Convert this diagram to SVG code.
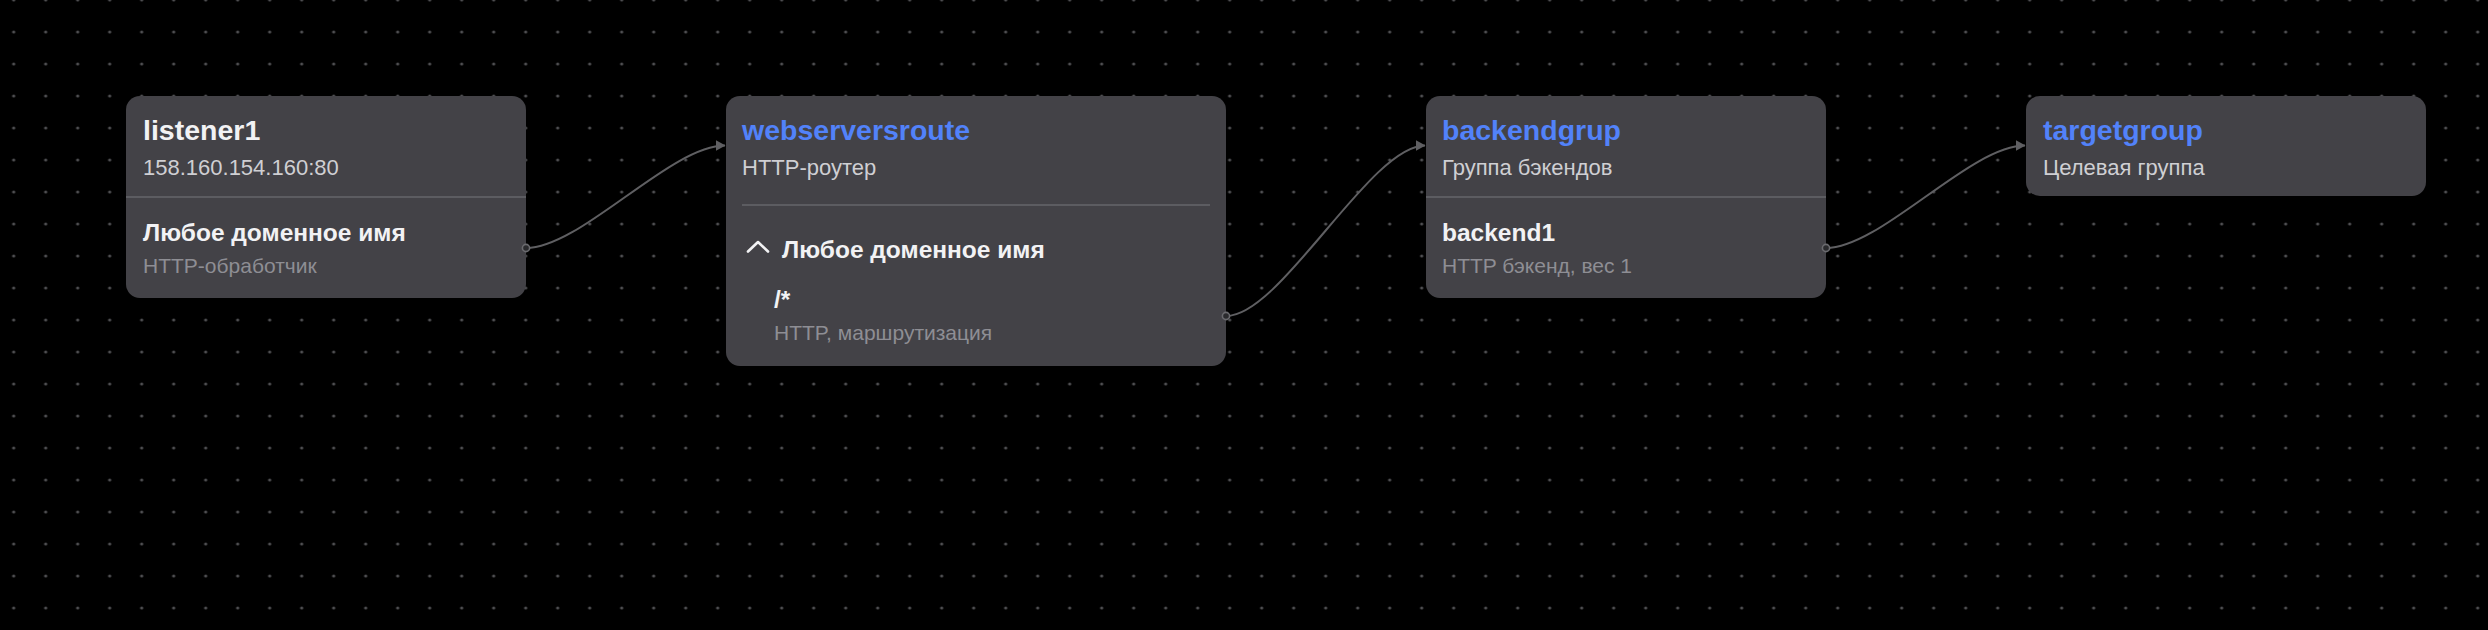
<svg xmlns="http://www.w3.org/2000/svg" width="2488" height="630" viewBox="0 0 2488 630">
<defs>
<pattern id="dots" x="-2.3" y="-16" width="32" height="32" patternUnits="userSpaceOnUse">
<circle cx="16" cy="16" r="1.6" fill="#4f4f52"/>
</pattern>
<marker id="arrow" viewBox="0 0 10 11" refX="9.5" refY="5.5" markerWidth="10" markerHeight="11" markerUnits="userSpaceOnUse" orient="auto">
<path d="M0,0 L10,5.5 L0,11 Z" fill="#5f5f62"/>
</marker>
<style>
.box{fill:#434247}
.div{stroke:#5c5c61;stroke-width:2}
.t{font-family:"Liberation Sans",Arial,sans-serif}
.title{font-size:28.5px;font-weight:700;fill:#5282fa}
.title-w{font-size:28.5px;font-weight:700;fill:#f2f2f4}
.sub{font-size:22px;fill:#cfcfd3}
.sec{font-size:24.5px;font-weight:700;fill:#f2f2f4}
.sec-sub{font-size:21px;fill:#8e8e94}
.conn{fill:none;stroke:#5f5f62;stroke-width:2}
.port{fill:#2a2a2d;stroke:#6a6a6e;stroke-width:1.6}
</style>
</defs>
<rect width="2488" height="630" fill="#000"/>
<rect width="2488" height="630" fill="url(#dots)"/>

<g id="connectors">
<path class="conn" d="M526,248 C581,248 670,145.5 725,145.5" marker-end="url(#arrow)"/>
<path class="conn" d="M1226,316 C1281,316 1370,145.5 1425,145.5" marker-end="url(#arrow)"/>
<path class="conn" d="M1826,248 C1881,248 1970,145.5 2025,145.5" marker-end="url(#arrow)"/>
</g>

<g id="listener1">
<rect class="box" x="126" y="96" width="400" height="202" rx="14"/>
<line class="div" x1="126" y1="197" x2="526" y2="197"/>
<text class="t title-w" x="143" y="140">listener1</text>
<text class="t sub" x="143" y="175">158.160.154.160:80</text>
<text class="t sec" x="143" y="241">Любое доменное имя</text>
<text class="t sec-sub" x="143" y="273">HTTP-обработчик</text>
<circle class="port" cx="526" cy="248" r="3.6"/>
</g>

<g id="webserversroute">
<rect class="box" x="726" y="96" width="500" height="270" rx="14"/>
<line class="div" x1="742" y1="205" x2="1210" y2="205"/>
<text class="t title" x="742" y="140">webserversroute</text>
<text class="t sub" x="742" y="175">HTTP-роутер</text>
<path d="M748,251.5 L758,242 L768,251.5" fill="none" stroke="#f2f2f4" stroke-width="2.6" stroke-linecap="round" stroke-linejoin="round"/>
<text class="t sec" x="782" y="258">Любое доменное имя</text>
<text class="t sec" x="774" y="308">/*</text>
<text class="t sec-sub" x="774" y="340">HTTP, маршрутизация</text>
<circle class="port" cx="1226" cy="316" r="3.6"/>
</g>

<g id="backendgrup">
<rect class="box" x="1426" y="96" width="400" height="202" rx="14"/>
<line class="div" x1="1426" y1="197" x2="1826" y2="197"/>
<text class="t title" x="1442" y="140">backendgrup</text>
<text class="t sub" x="1442" y="175">Группа бэкендов</text>
<text class="t sec" x="1442" y="241">backend1</text>
<text class="t sec-sub" x="1442" y="273">HTTP бэкенд, вес 1</text>
<circle class="port" cx="1826" cy="248" r="3.6"/>
</g>

<g id="targetgroup">
<rect class="box" x="2026" y="96" width="400" height="100" rx="14"/>
<text class="t title" x="2043" y="140">targetgroup</text>
<text class="t sub" x="2043" y="175">Целевая группа</text>
</g>
</svg>
